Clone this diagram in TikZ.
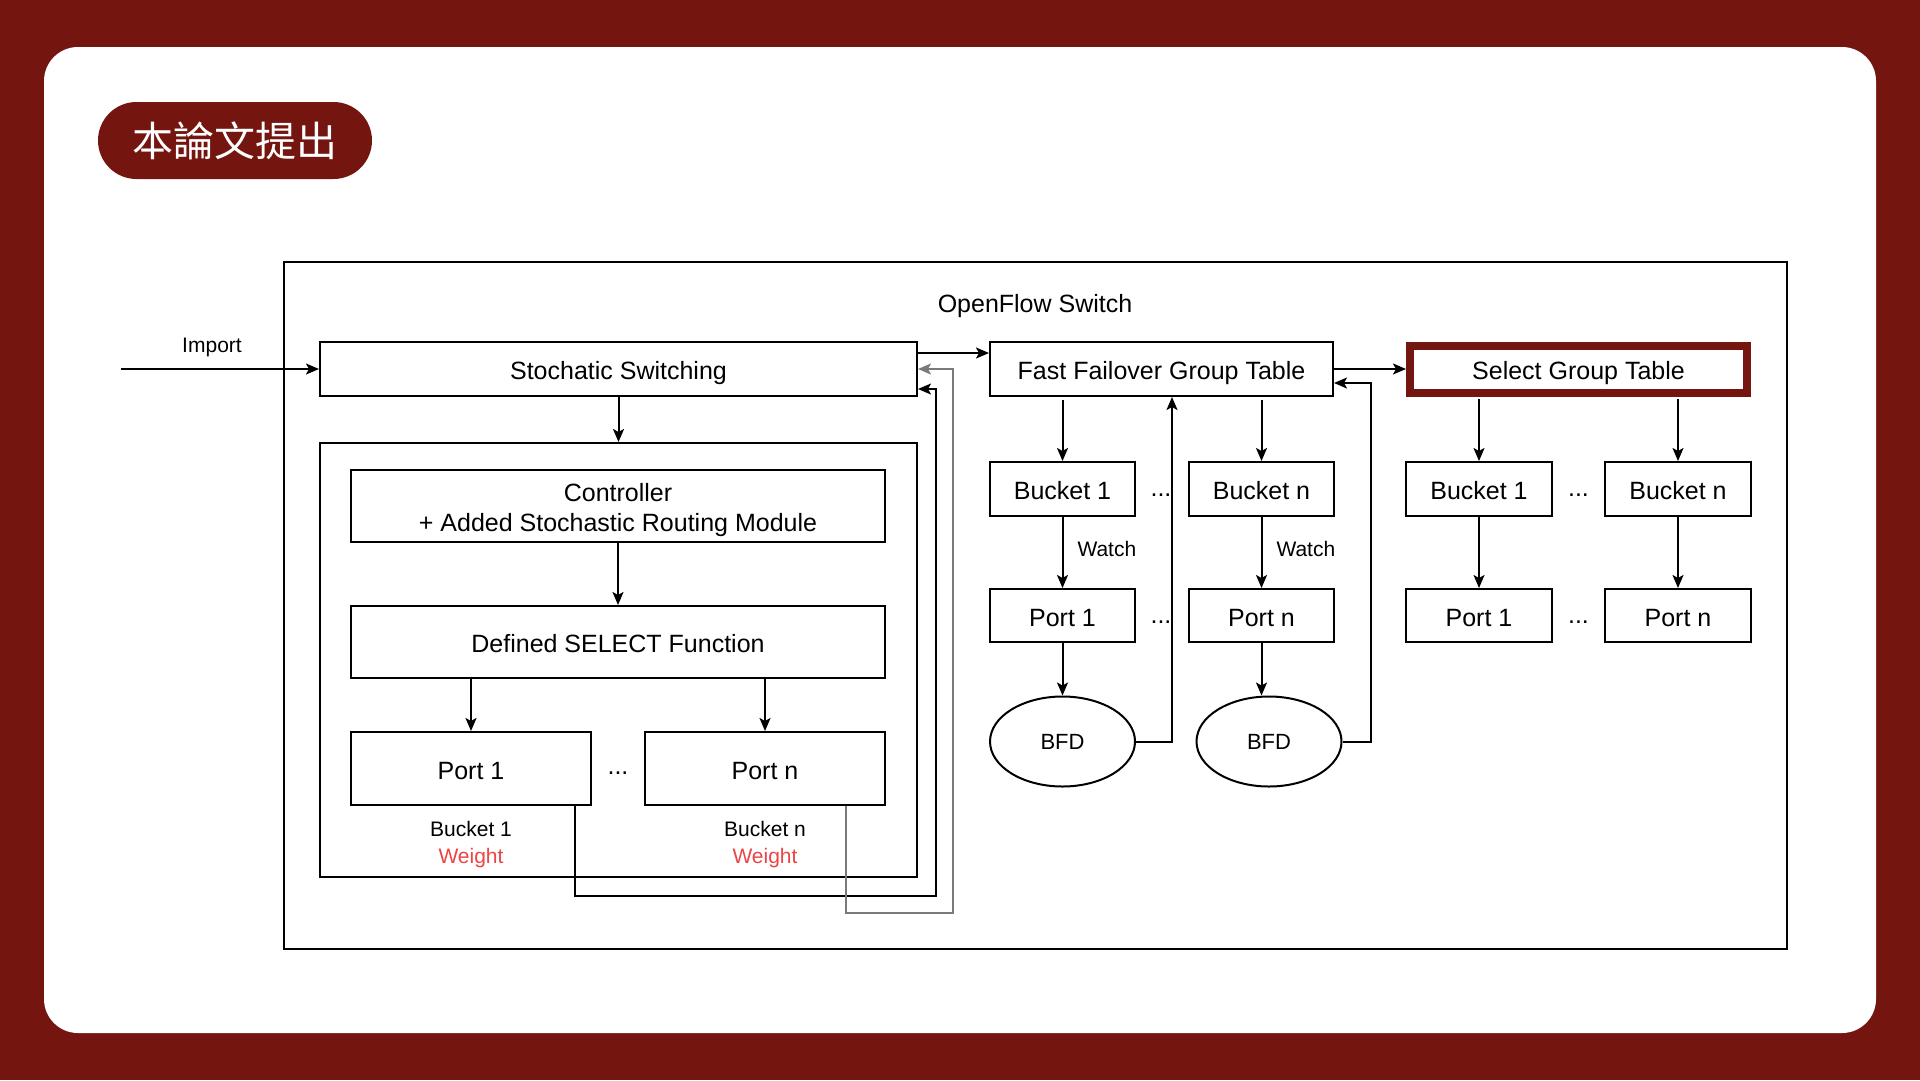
\documentclass[tikz,border=0pt]{standalone}
\usepackage{fontspec}
\setmainfont{Liberation Sans}
\newfontfamily\cjkfont{Noto Sans CJK TC}
\usepackage{xcolor}
\usetikzlibrary{arrows.meta,positioning,shapes.geometric}
\definecolor{deepred}{HTML}{74150F}
\definecolor{wred}{HTML}{EB4545}
\definecolor{retgray}{HTML}{7A7A7A}

\begin{document}
\begin{tikzpicture}[x=1pt,y=-1pt,line width=2pt,>={Stealth[length=13pt,width=11pt,inset=3pt]},
  box/.style={draw,line width=2pt,inner sep=0pt,minimum height=54pt,text height=21pt,text depth=0pt,font=\fontsize{25}{30}\selectfont},
  frame/.style={draw,line width=2pt,inner sep=0pt},
  lbl/.style={inner sep=0pt,font=\fontsize{21}{27}\selectfont},
  dots/.style={inner sep=0pt,font=\fontsize{25}{30}\selectfont},
  bfd/.style={draw,ellipse,line width=2pt,minimum width=145pt,minimum height=90pt,inner sep=0pt,font=\fontsize{22}{26}\selectfont},
  selbox/.style={draw=deepred,line width=8pt,minimum width=337pt,minimum height=47pt,inner sep=0pt,text height=21pt,text depth=0pt,font=\fontsize{25}{30}\selectfont},
  pill/.style={fill=deepred,text=white,rounded corners=38.5pt,minimum width=274pt,minimum height=77pt,inner sep=0pt,font=\fontsize{41}{41}\selectfont}]
\useasboundingbox (0,0) rectangle (1920,1080);
\fill[deepred] (0,0) rectangle (1920,1080);
\fill[white,rounded corners=34pt] (44,47) rectangle (1876,1033);
\node[pill] (tag) at (235,140.5) {\cjkfont 本論文提出};

% switch frame
\node[frame,minimum width=1503pt,minimum height=687pt] (switch) at (1035.5,605.5) {};
\node[dots] (swtitle) at (1035,306) {OpenFlow Switch};

% stochastic part
\node[box,minimum width=597pt] (stoch) at (618.5,369) {Stochatic Switching};
\node[frame,minimum width=597pt,minimum height=434pt] (ctrlbox) at (618.5,660) {};
\node[box,minimum width=534pt,minimum height=72pt,align=center,text height=50pt,text depth=0pt] (ctrl) at (618,506) {Controller\\+ Added Stochastic Routing Module};
\node[box,minimum width=534pt,minimum height=72pt] (selfn) at (618,642) {Defined SELECT Function};
\node[box,minimum width=240pt,minimum height=73pt] (ip1) at (471,768.5) {Port 1};
\node[box,minimum width=240pt,minimum height=73pt] (ipn) at (765,768.5) {Port n};
\node[dots] (idots) at (618,773) {...};
\node[lbl,align=center] (ip1w) at (471,844.5) {Bucket 1\\\textcolor{wred}{Weight}};
\node[lbl,align=center] (ipnw) at (765,844.5) {Bucket n\\\textcolor{wred}{Weight}};
\coordinate (imp) at (121,369);
\node[lbl] (implab) at (212,347) {Import};
\coordinate (fb1) at (936,896);
\coordinate (fb2) at (953,913);

% fast failover part
\node[box,minimum width=343pt] (ff) at (1161.5,369) {Fast Failover Group Table};
\node[box,minimum width=145pt] (ffb1) at (1062.5,489) {Bucket 1};
\node[box,minimum width=145pt] (ffbn) at (1261.5,489) {Bucket n};
\node[box,minimum width=145pt,minimum height=53pt] (ffp1) at (1062.5,615.5) {Port 1};
\node[box,minimum width=145pt,minimum height=53pt] (ffpn) at (1261.5,615.5) {Port n};
\node[dots] (ffdots1) at (1161,495) {...};
\node[dots] (ffdots2) at (1161,622) {...};
\node[bfd] (bfd1) at (1062.5,741.5) {BFD};
\node[bfd] (bfd2) at (1269,741.5) {BFD};
\coordinate (ret2) at (1371,383);

% select part
\node[selbox] (sel) at (1578.5,369) {Select Group Table};
\node[box,minimum width=146pt] (sb1) at (1479,489) {Bucket 1};
\node[box,minimum width=146pt] (sbn) at (1678,489) {Bucket n};
\node[box,minimum width=146pt,minimum height=53pt] (sp1) at (1479,615.5) {Port 1};
\node[box,minimum width=146pt,minimum height=53pt] (spn) at (1678,615.5) {Port n};
\node[dots] (sdots1) at (1578.5,495) {...};
\node[dots] (sdots2) at (1578.5,622) {...};

\draw[->] (imp) -- (stoch);
\draw[->] (stoch) -- (ctrlbox);
\draw[->] (ctrl) -- (selfn);
\draw[->] (ip1 |- selfn.south) -- (ip1);
\draw[->] (ipn |- selfn.south) -- (ipn);
\draw[->] ([yshift=16pt]stoch.east) -- ([yshift=16pt]ff.west);
\draw[->] ([xshift=-17pt]ip1.south east) |- (fb1) |- ([yshift=-20pt]stoch.east);
\draw[->,retgray] ([xshift=-40pt]ipn.south east) |- (fb2) |- (stoch.east);
\draw[->] (ff) -- (sel);
\draw[->,shorten <=3pt] (ffb1 |- ff.south) -- (ffb1);
\draw[->,shorten <=3pt] (ffbn |- ff.south) -- (ffbn);
\draw[->] (ffb1) -- node[lbl,right=14pt,yshift=4pt] {Watch} (ffp1);
\draw[->] (ffbn) -- node[lbl,right=14pt,yshift=4pt] {Watch} (ffpn);
\draw[->] (ffp1) -- (bfd1);
\draw[->] (ffpn) -- (ffpn |- bfd2.north);
\draw[->] (bfd1) -| ([xshift=10.5pt]ff.south);
\draw[->] (bfd2) -| (ret2) -- ([yshift=-14pt]ff.east);
\draw[->,shorten <=2pt] (sb1 |- sel.south) -- (sb1);
\draw[->,shorten <=2pt] (sbn |- sel.south) -- (sbn);
\draw[->] (sb1) -- (sp1);
\draw[->] (sbn) -- (spn);
\end{tikzpicture}
\end{document}
